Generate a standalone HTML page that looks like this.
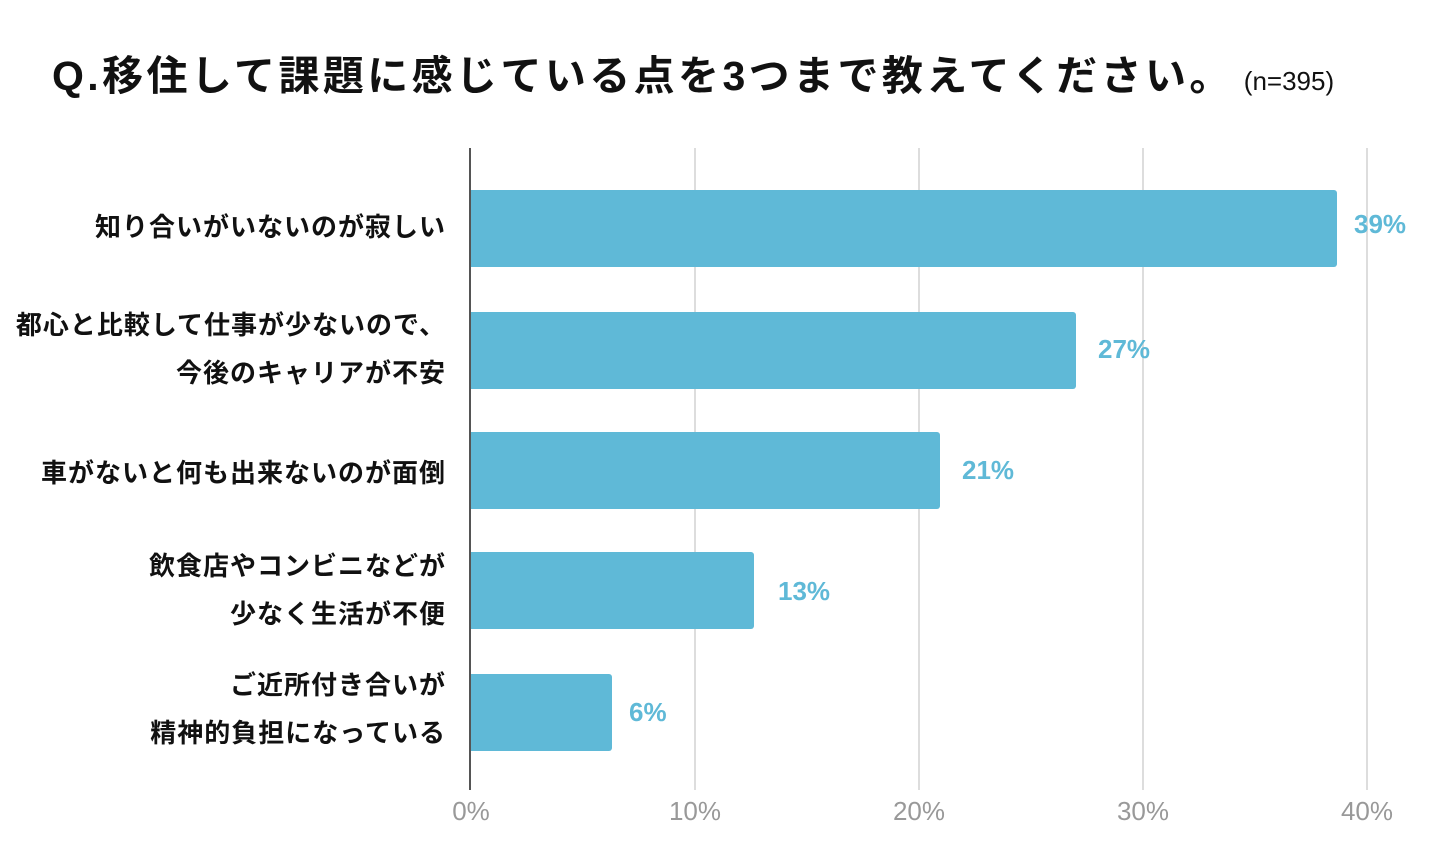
<!DOCTYPE html>
<html><head><meta charset="utf-8"><style>
html,body{margin:0;padding:0;background:#fff;}
body{width:1440px;height:848px;position:relative;overflow:hidden;font-family:"Liberation Sans","Noto Sans CJK JP",sans-serif;}
.t{position:absolute;left:52px;top:42px;font-size:41px;font-weight:bold;color:#111;white-space:nowrap;letter-spacing:3.4px;}
.t small{font-size:26px;font-weight:normal;letter-spacing:0;margin-left:10px;}
.g{position:absolute;top:148px;height:642px;width:2px;background:#ddd;}
.ax{position:absolute;left:469px;top:148px;height:642px;width:2px;background:#555;}
.b{position:absolute;left:471px;height:77px;background:#5fb9d7;border-radius:0 3px 3px 0;}
.v{position:absolute;font-size:26px;font-weight:bold;color:#5fb9d7;}
.c{position:absolute;right:994px;font-size:26px;font-weight:bold;color:#111;text-align:right;line-height:48px;white-space:nowrap;letter-spacing:1px;}
.x{position:absolute;top:796px;font-size:26px;color:#999;width:80px;margin-left:-40px;text-align:center;}
</style></head><body>
<div class="t">Q.移住して課題に感じている点を3つまで教えてください。<small>(n=395)</small></div>
<div class="g" style="left:694px"></div>
<div class="g" style="left:918px"></div>
<div class="g" style="left:1142px"></div>
<div class="g" style="left:1366px"></div>
<div class="ax"></div>
<div class="b" style="top:190px;width:866px"></div>
<div class="b" style="top:312px;width:605px"></div>
<div class="b" style="top:432px;width:469px"></div>
<div class="b" style="top:552px;width:283px"></div>
<div class="b" style="top:674px;width:141px"></div>
<div class="v" style="left:1354px;top:209px">39%</div>
<div class="v" style="left:1098px;top:334px">27%</div>
<div class="v" style="left:962px;top:455px">21%</div>
<div class="v" style="left:778px;top:576px">13%</div>
<div class="v" style="left:629px;top:697px">6%</div>
<div class="c" style="top:203px">知り合いがいないのが寂しい</div>
<div class="c" style="top:301px">都心と比較して仕事が少ないので、<br>今後のキャリアが不安</div>
<div class="c" style="top:449px">車がないと何も出来ないのが面倒</div>
<div class="c" style="top:542px">飲食店やコンビニなどが<br>少なく生活が不便</div>
<div class="c" style="top:661px">ご近所付き合いが<br>精神的負担になっている</div>
<div class="x" style="left:471px">0%</div>
<div class="x" style="left:695px">10%</div>
<div class="x" style="left:919px">20%</div>
<div class="x" style="left:1143px">30%</div>
<div class="x" style="left:1367px">40%</div>
</body></html>
